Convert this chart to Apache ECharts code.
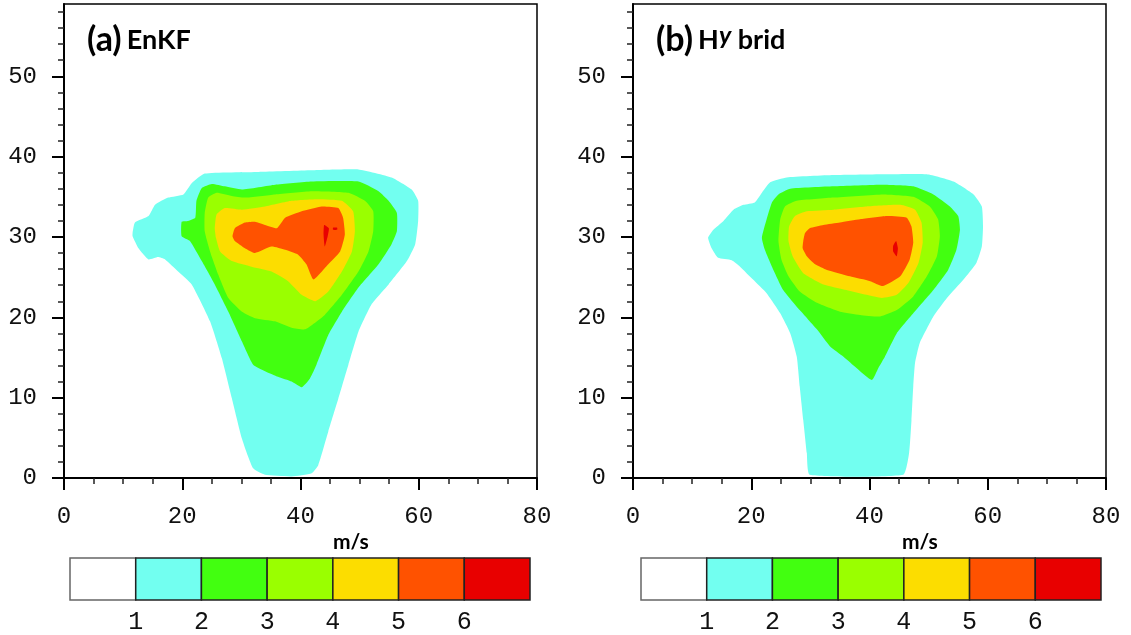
<!DOCTYPE html>
<html><head><meta charset="utf-8">
<script src="https://cdn.jsdelivr.net/npm/echarts@6/dist/echarts.min.js"></script>
<style>html,body{margin:0;padding:0;background:#fff}#c{width:1131px;height:635px}</style>
</head><body><div id="c"></div>
<script>
// ---- ticks ----
const xTicks = [0, 20, 40, 60, 80];
const yTicks = [0, 10, 20, 30, 40, 50];
const yMinorTicks = [2,4,6,8,12,14,16,18,22,24,26,28,32,34,36,38,42,44,46,48,52,54,56,58];
const colorbarLabels = [1, 2, 3, 4, 5, 6];
const colorbarBins = [0, 1, 2, 3, 4, 5, 6];
const levelColors = ['#ffffff', '#72fff0', '#42ff10', '#9aff00', '#fcdd00', '#ff5200', '#e80000'];

// ---- (a) EnKF contour boundaries (x: m/s, y: level) ----
const enkf1 = [[11.6,30.5],[12.0,31.8],[14.3,32.6],[15.4,34.0],[17.6,34.9],[20.2,35.3],[21.6,36.7],[23.8,37.9],[32.9,38.1],[41.9,38.3],[49.8,38.4],[55.4,37.4],[58.8,35.9],[59.9,34.5],[59.9,32.0],[59.4,29.1],[58.0,27.0],[54.9,24.1],[52.0,21.6],[49.8,18.2],[48.1,14.1],[46.4,9.9],[44.7,5.8],[43.0,1.6],[41.9,0.6],[38.5,0.2],[34.0,0.4],[32.0,1.2],[30.1,4.9],[28.4,9.9],[26.7,14.9],[24.7,19.5],[21.6,24.1],[19.3,25.7],[17.1,27.2],[15.9,27.5],[14.3,27.2],[12.6,28.6],[11.6,30.1]];
const enkf2 = [[19.9,31.9],[21.0,32.0],[22.2,32.4],[22.4,34.5],[23.3,36.1],[25.0,36.6],[27.2,36.3],[30.1,35.9],[35.7,36.5],[41.9,36.9],[49.8,36.9],[53.2,35.7],[54.9,34.5],[56.3,33.0],[56.3,30.7],[55.4,29.1],[53.2,26.6],[49.8,23.7],[47.0,20.7],[44.7,17.8],[42.7,14.1],[41.6,12.4],[40.2,11.3],[38.5,12.0],[36.2,12.6],[34.0,13.3],[32.0,14.1],[30.1,17.0],[27.8,20.7],[25.5,24.1],[23.3,27.0],[21.3,29.5],[19.9,30.1]];
const enkf3 = [[23.8,33.0],[24.4,34.9],[25.8,35.5],[28.4,35.1],[30.6,34.9],[35.7,35.3],[41.9,35.7],[48.1,35.5],[50.9,34.5],[52.3,33.2],[52.3,30.7],[51.5,28.2],[49.8,25.7],[47.0,22.8],[44.1,20.3],[40.8,18.5],[38.5,18.7],[35.7,19.5],[32.3,19.9],[30.1,20.7],[27.8,22.4],[26.1,25.3],[24.7,28.2],[23.8,30.7]];
const enkf4 = [[25.5,31.1],[25.8,32.8],[27.2,33.6],[30.1,33.4],[34.0,33.8],[38.5,34.5],[43.0,34.7],[47.0,34.5],[48.9,33.2],[49.2,30.7],[48.7,28.2],[47.0,25.7],[44.7,23.2],[42.5,22.0],[40.2,22.8],[37.9,24.5],[35.1,25.7],[31.7,26.3],[28.4,27.0],[26.4,28.2],[25.7,29.9]];
const enkf5 = [[28.5,30.1],[28.9,31.1],[30.6,31.8],[32.3,31.9],[34.0,31.5],[36.0,31.1],[37.4,32.4],[40.2,33.2],[43.6,33.8],[46.4,33.6],[47.2,32.4],[47.5,30.3],[46.7,28.2],[44.7,26.6],[42.2,24.7],[41.0,26.6],[39.6,27.8],[37.4,28.4],[35.1,28.8],[32.3,28.0],[30.6,28.6],[28.9,29.5]];
const enkf6 = [[44.0,31.5],[44.8,31.1],[44.6,30.1],[44.1,28.8],[43.9,30.3]];
const enkf6b = [[45.5,31.15],[46.2,31.15],[46.2,30.9],[45.5,30.9]];

// ---- (b) Hybrid contour boundaries ----
const hyb1 = [[12.7,29.9],[13.6,30.9],[15.3,32.0],[17.0,33.4],[18.7,34.0],[20.6,34.3],[21.8,35.5],[23.2,36.8],[26.0,37.4],[33.9,37.7],[42.9,37.8],[49.7,37.8],[54.2,36.9],[57.6,35.3],[59.0,33.8],[59.2,31.3],[59.0,28.8],[58.1,26.8],[55.9,24.7],[53.1,22.4],[50.8,20.1],[48.5,16.8],[47.7,14.3],[47.4,11.4],[47.1,7.2],[46.7,3.1],[45.7,0.4],[29.9,0.4],[29.4,3.1],[28.8,7.2],[28.2,11.4],[27.7,15.1],[26.6,18.0],[24.9,20.5],[22.6,23.0],[20.3,24.7],[18.1,26.3],[16.7,27.1],[14.4,27.4],[13.3,28.6]];
const hyb2 = [[21.8,29.9],[22.6,32.2],[23.5,34.3],[24.6,35.3],[26.6,36.0],[33.9,36.3],[42.3,36.5],[47.4,36.3],[50.8,35.3],[53.6,33.8],[55.0,32.6],[55.3,30.9],[54.7,28.4],[53.3,25.9],[50.8,23.4],[47.4,20.5],[44.6,18.0],[42.6,15.1],[41.5,13.7],[40.4,12.2],[37.8,13.7],[35.6,15.1],[33.3,16.4],[31.1,18.5],[28.2,20.9],[25.4,23.4],[23.5,26.3],[22.3,28.4]];
const hyb3 = [[24.6,29.5],[24.9,32.2],[25.7,33.8],[27.7,34.5],[33.9,34.9],[42.3,35.3],[47.4,35.0],[50.2,33.8],[51.6,32.2],[51.9,30.1],[51.4,27.6],[49.7,25.1],[47.4,22.6],[44.6,20.9],[41.8,20.1],[38.4,20.3],[35.0,20.7],[31.1,21.8],[28.2,23.2],[26.3,25.1],[25.1,27.2]];
const hyb4 = [[26.3,29.5],[26.4,31.3],[27.4,32.6],[29.4,33.2],[33.9,33.4],[39.5,33.8],[45.2,34.0],[47.7,33.4],[48.8,31.8],[49.0,29.3],[48.3,26.8],[46.6,24.3],[44.6,22.8],[42.1,22.4],[39.5,22.8],[36.1,23.4],[32.2,24.1],[28.8,25.5],[27.0,27.6]];
const hyb5 = [[28.8,29.5],[29.1,30.5],[29.9,31.1],[32.2,31.5],[35.0,31.8],[38.4,32.2],[42.9,32.6],[46.3,32.4],[47.1,31.3],[47.4,29.3],[46.8,27.2],[45.2,25.1],[42.3,23.9],[40.1,24.5],[36.7,25.1],[32.8,25.9],[30.8,26.6],[29.4,27.6],[28.7,28.6]];
const hyb6 = [[44.5,29.5],[44.8,28.6],[44.6,27.6],[44.0,28.2],[44.0,28.9]];

const panels = [
  {title: '{a|(a)}{s| }{b|EnKF}', polys: [[enkf1,1],[enkf2,2],[enkf3,3],[enkf4,4],[enkf5,5],[enkf6,6],[enkf6b,6]]},
  {title: '{a|(b)}{s| }{b|H}{c|y}{b| brid}', polys: [[hyb1,1],[hyb2,2],[hyb3,3],[hyb4,4],[hyb5,5],[hyb6,6]]}
];

const tickFont = 'Liberation Mono';
const plotLeft = [64, 633];
const cbLeft = [70, 641];

const grids = [], xAxes = [], yAxes = [], series = [], graphics = [];
panels.forEach((p, i) => {
  grids.push({left: plotLeft[i], top: 4, width: 473, height: 474, show: true, borderColor: '#000', borderWidth: 1.5, backgroundColor: '#fff', containLabel: false});
  xAxes.push({
    type: 'value', gridIndex: i, min: 0, max: 80, interval: 20,
    axisLine: {show: true, lineStyle: {color: '#000', width: 2}},
    axisTick: {show: true, inside: false, length: 12, lineStyle: {color: '#000', width: 2}},
    minorTick: {show: true, splitNumber: 4, length: 6, lineStyle: {color: '#222', width: 1.5}},
    splitLine: {show: false}, minorSplitLine: {show: false},
    axisLabel: {color: '#111', fontFamily: tickFont, fontSize: 24, margin: 27}
  });
  yAxes.push({
    type: 'value', gridIndex: i, min: 0, max: 59, position: 'left',
    axisLine: {show: true, onZero: false, lineStyle: {color: '#000', width: 2}},
    axisTick: {show: true, inside: false, length: 12, customValues: yTicks, lineStyle: {color: '#000', width: 2}},
    splitLine: {show: false},
    axisLabel: {customValues: yTicks, color: '#111', fontFamily: tickFont, fontSize: 24, margin: 27}
  });
  yAxes.push({
    type: 'value', gridIndex: i, min: 0, max: 59, position: 'left', offset: 0,
    axisLine: {show: false},
    axisTick: {show: true, inside: false, length: 6, customValues: yMinorTicks, lineStyle: {color: '#222', width: 1.5}},
    splitLine: {show: false},
    axisLabel: {show: false}
  });
  p.polys.forEach(([pts, lvl]) => {
    series.push({
      type: 'custom', xAxisIndex: i, yAxisIndex: i * 2, clip: true, silent: true,
      data: [[pts[0][0], pts[0][1]]],
      renderItem: (params, api) => ({
        type: 'polygon',
        shape: {points: pts.map(pt => api.coord(pt)), smooth: 0.15},
        style: {fill: levelColors[lvl], stroke: null}
      })
    });
  });
  graphics.push({
    type: 'text', left: plotLeft[i] + 23, top: 23,
    style: {
      text: p.title,
      rich: {
        a: {fontFamily: 'Lato', fontWeight: 'bold', fontSize: 34, fill: '#000'},
        s: {fontFamily: 'Lato', fontSize: 20},
        b: {fontFamily: 'Lato', fontWeight: 'bold', fontSize: 27, fill: '#000'},
        c: {fontFamily: 'Lato', fontWeight: 'bold', fontStyle: 'italic', fontSize: 25, fill: '#000', padding: [0, 0, 8, 0]}
      }
    }
  });
  graphics.push({
    type: 'text', left: plotLeft[i] + 269, top: 532,
    style: {text: 'm/s', fontFamily: 'Lato', fontWeight: 'bold', fontSize: 21, fill: '#000'}
  });
});

// colorbars
[0, 1].forEach(i => {
  const g = 2 + i;
  grids.push({left: cbLeft[i], top: 558, width: 460, height: 43, show: false});
  xAxes.push({
    type: 'value', gridIndex: g, min: 0, max: 7,
    axisLine: {show: false}, axisTick: {show: false}, splitLine: {show: false},
    axisLabel: {customValues: colorbarLabels, color: '#111', fontFamily: tickFont, fontSize: 25, margin: 10}
  });
  yAxes.push({type: 'value', gridIndex: g, min: 0, max: 1, show: false});
  series.push({
    type: 'custom', xAxisIndex: 2 + i, yAxisIndex: 4 + i, silent: true,
    data: colorbarBins.map(b => [b, 0]),
    renderItem: (params, api) => {
      const b = api.value(0);
      const p0 = api.coord([b, 1]);
      const p1 = api.coord([b + 1, 0]);
      return {
        type: 'rect',
        shape: {x: p0[0], y: p0[1], width: p1[0] - p0[0], height: p1[1] - p0[1]},
        style: {fill: levelColors[b], stroke: b === 0 ? '#666' : '#222', lineWidth: 1.5}
      };
    }
  });
});

const chart = echarts.init(document.getElementById('c'), null, {renderer: 'canvas'});
chart.setOption({
  animation: false,
  backgroundColor: '#fff',
  grid: grids, xAxis: xAxes, yAxis: yAxes, series: series, graphic: graphics
});
</script></body></html>
